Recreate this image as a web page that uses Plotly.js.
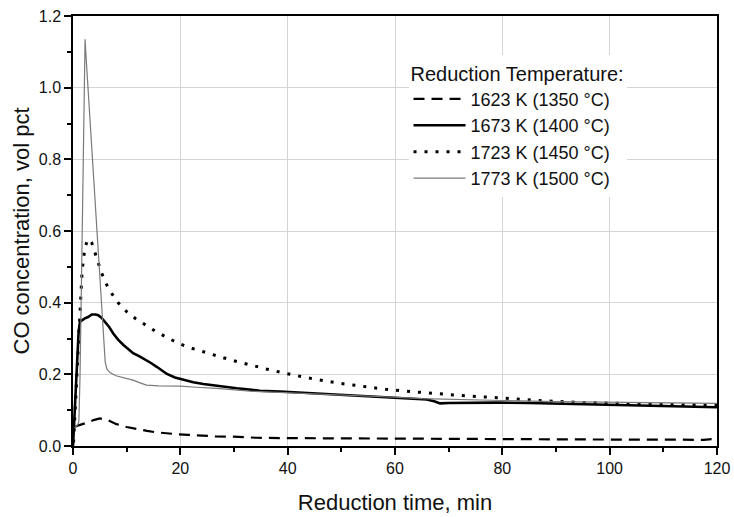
<!DOCTYPE html>
<html>
<head>
<meta charset="utf-8">
<script src="https://cdn.plot.ly/plotly-3.0.1.min.js"></script>
<style>html,body{margin:0;padding:0;background:#fff;}#chart{width:734px;height:517px;}</style>
</head>
<body>
<div id="chart"></div>
<script>
// Series names
var seriesNames = ['1623 K (1350 \u00B0C)', '1673 K (1400 \u00B0C)', '1723 K (1450 \u00B0C)', '1773 K (1500 \u00B0C)'];

// 1623 K (1350 °C)
var t1623 = [0.3, 0.7, 1.3, 2.0, 3.0, 4.0, 5.0, 6.5, 8.1, 10, 11.9, 13.8, 15.6, 17.5, 19.3, 21.5, 23.7, 26.5, 29.8, 34.2, 40, 50, 60, 70, 80, 90, 100, 110, 115, 117.5, 119];
var c1623 = [0.052, 0.056, 0.059, 0.062, 0.067, 0.073, 0.077, 0.072, 0.061, 0.053, 0.047, 0.042, 0.038, 0.035, 0.033, 0.031, 0.029, 0.027, 0.026, 0.023, 0.022, 0.021, 0.020, 0.019, 0.019, 0.018, 0.018, 0.018, 0.017, 0.017, 0.019];

// 1673 K (1400 °C)
var t1673 = [0, 0.15, 0.37, 0.6, 0.8, 1.05, 1.3, 1.7, 2.2, 2.8, 3.5, 4.2, 4.7, 5.3, 6.0, 6.7, 7.5, 8.4, 9.4, 10.3, 11.2, 12.4, 13.7, 14.6, 15.6, 16.5, 17.5, 19.0, 20.6, 22.4, 24.3, 26.5, 28.6, 30.5, 32.4, 34.8, 38.6, 45, 51, 56, 60.3, 63, 65.9, 67.3, 68.4, 70, 75, 79, 85, 90, 95, 100, 105, 110, 115, 120];
var c1673 = [0, 0.05, 0.128, 0.21, 0.268, 0.32, 0.347, 0.352, 0.356, 0.36, 0.367, 0.367, 0.365, 0.358, 0.347, 0.333, 0.314, 0.297, 0.282, 0.27, 0.259, 0.25, 0.240, 0.231, 0.221, 0.211, 0.201, 0.191, 0.184, 0.178, 0.173, 0.168, 0.164, 0.161, 0.158, 0.154, 0.152, 0.147, 0.142, 0.139, 0.135, 0.133, 0.130, 0.125, 0.119, 0.120, 0.121, 0.121, 0.120, 0.118, 0.116, 0.114, 0.112, 0.111, 0.110, 0.108];

// 1723 K (1450 °C)
var t1723 = [0.1, 0.4, 0.7, 1.0, 1.3, 1.5, 1.7, 1.95, 2.2, 2.6, 3.0, 3.5, 4.0, 4.6, 5.3, 6.2, 7.2, 8.5, 10, 11.7, 13.4, 15.4, 17.5, 19.3, 21.2, 24.3, 27.4, 30, 33, 36, 39.5, 44.5, 49.7, 54, 58.4, 63.7, 69, 74, 79, 83.5, 87.6, 94, 100, 110, 120];
var c1723 = [0.01, 0.1, 0.2, 0.3, 0.39, 0.44, 0.49, 0.52, 0.553, 0.57, 0.578, 0.567, 0.545, 0.514, 0.484, 0.452, 0.426, 0.398, 0.375, 0.355, 0.338, 0.32, 0.303, 0.289, 0.277, 0.262, 0.249, 0.238, 0.226, 0.215, 0.203, 0.188, 0.175, 0.166, 0.158, 0.151, 0.144, 0.139, 0.135, 0.130, 0.126, 0.122, 0.119, 0.116, 0.114];

// 1773 K (1500 °C)
var t1773 = [0.3, 0.6, 0.9, 1.1, 1.3, 1.6, 2.0, 2.25, 2.5, 3.0, 3.8, 4.4, 5.0, 5.5, 6.0, 6.3, 6.9, 8.0, 9.5, 11.2, 12.5, 13.7, 16, 20, 23, 26.8, 33, 40, 50, 60, 65, 70, 80, 90, 100, 110, 120];
var c1773 = [0.05, 0.055, 0.06, 0.07, 0.19, 0.48, 0.85, 1.135, 1.07, 0.95, 0.77, 0.63, 0.48, 0.355, 0.235, 0.215, 0.205, 0.196, 0.19, 0.184, 0.176, 0.170, 0.168, 0.167, 0.164, 0.161, 0.153, 0.149, 0.143, 0.136, 0.132, 0.131, 0.127, 0.124, 0.122, 0.120, 0.119];

var xTickVals = [0, 20, 40, 60, 80, 100, 120];
var yTickVals = [0.0, 0.2, 0.4, 0.6, 0.8, 1.0, 1.2];

var FONT = 'Liberation Sans, Arial, sans-serif';

var traces = [
  {x: t1623, y: c1623, name: seriesNames[0], mode: 'lines', line: {color: '#000', width: 2.2, dash: '11px,7px'}},
  {x: t1673, y: c1673, name: seriesNames[1], mode: 'lines', line: {color: '#000', width: 2.6}},
  {x: t1723, y: c1723, name: seriesNames[2], mode: 'lines', line: {color: '#000', width: 3, dash: '3px,8px'}},
  {x: t1773, y: c1773, name: seriesNames[3], mode: 'lines', line: {color: '#7a7a7a', width: 1.2}},
  // empty helper traces so the minor-tick overlay axes get drawn
  {x: [], y: [], xaxis: 'x2', yaxis: 'y', mode: 'lines', showlegend: false, hoverinfo: 'skip'},
  {x: [], y: [], xaxis: 'x', yaxis: 'y2', mode: 'lines', showlegend: false, hoverinfo: 'skip'}
];

var xStep = xTickVals[1] - xTickVals[0];
var yStep = yTickVals[1] - yTickVals[0];

function makeAxis(vals, step, title, standoff, fmt) {
  return {
    type: 'linear',
    range: [vals[0], vals[vals.length - 1]],
    autorange: false,
    showline: true, linecolor: '#000000', linewidth: 1.5, mirror: true,
    tickmode: 'linear', tick0: vals[0], dtick: step,
    ticks: 'outside', ticklen: 7, tickwidth: 1.5, tickcolor: '#000000',
    showticklabels: true,
    tickformat: fmt,
    showgrid: true, gridcolor: '#d4d4d4', gridwidth: 1,
    zeroline: false,
    tickfont: {family: FONT, size: 16, color: '#111'},
    title: {text: title, font: {family: FONT, size: 22, color: '#111'}, standoff: standoff}
  };
}

function makeMinorAxis(vals, step, over, anchor, side) {
  return {
    type: 'linear', overlaying: over, anchor: anchor, side: side,
    range: [vals[0], vals[vals.length - 1]], autorange: false,
    tickmode: 'linear', tick0: vals[0], dtick: step / 2,
    ticks: 'outside', ticklen: 5, tickwidth: 1.5, tickcolor: '#000000',
    showticklabels: false, showgrid: false, showline: false, zeroline: false
  };
}

var layout = {
  width: 734, height: 517, autosize: false,
  margin: {l: 73, r: 17, t: 16, b: 71, pad: 0},
  paper_bgcolor: '#fff', plot_bgcolor: '#fff',
  font: {family: FONT, color: '#111'},
  showlegend: true,
  xaxis: makeAxis(xTickVals, xStep, 'Reduction time, min', 19, 'd'),
  yaxis: makeAxis(yTickVals, yStep, 'CO concentration, vol pct', 3, '.1f'),
  xaxis2: makeMinorAxis(xTickVals, xStep, 'x', 'y', 'bottom'),
  yaxis2: makeMinorAxis(yTickVals, yStep, 'y', 'x', 'left'),
  legend: {
    x: 0.521, y: 0.91, xanchor: 'left', yanchor: 'top',
    bgcolor: '#fff', borderwidth: 0,
    font: {family: FONT, size: 18, color: '#111'},
    title: {text: 'Reduction Temperature:', font: {family: FONT, size: 20, color: '#111'}},
    itemwidth: 52, tracegroupgap: 0
  }
};

Plotly.newPlot('chart', traces, layout, {displayModeBar: false});
</script>
</body>
</html>
